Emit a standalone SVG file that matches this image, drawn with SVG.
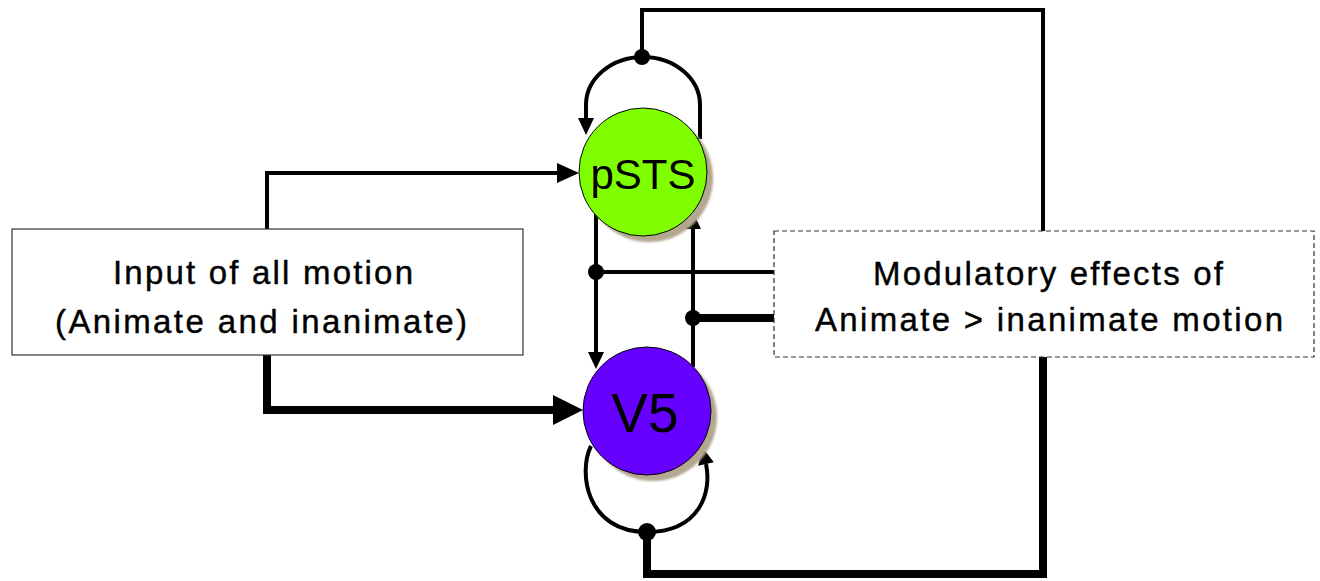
<svg xmlns="http://www.w3.org/2000/svg" width="1320" height="581" viewBox="0 0 1320 581">
<style>
.thin{fill:none;stroke:#000;stroke-width:4}
.thick{fill:none;stroke:#000;stroke-width:8}
.box{fill:#fff;stroke:#333;stroke-width:1.2}
.dash{stroke-dasharray:5 3}
.lbl{font-family:"Liberation Sans",Arial,sans-serif;font-size:33px;fill:#000;stroke:#000;stroke-width:0.4;text-anchor:middle}
.node{font-family:"Liberation Sans",Arial,sans-serif;fill:#000;text-anchor:middle}
.shadow{fill:#b3a78f}
.dot{fill:#000}
</style>
<defs>
<filter id="blur" x="-20%" y="-20%" width="140%" height="140%"><feGaussianBlur stdDeviation="1.2"/></filter>
<marker id="ah" markerUnits="userSpaceOnUse" markerWidth="24" markerHeight="22" viewBox="0 -11 24 22" refX="0" refY="0" orient="auto" overflow="visible"><path d="M0,-10 L22,0 L0,10 z" fill="#000"/></marker>
<marker id="ahs" markerUnits="userSpaceOnUse" markerWidth="18" markerHeight="18" viewBox="0 -9 18 18" refX="0" refY="0" orient="auto" overflow="visible"><path d="M0,-8 L17,0 L0,8 z" fill="#000"/></marker>
<marker id="ahb" markerUnits="userSpaceOnUse" markerWidth="32" markerHeight="32" viewBox="0 -16 32 32" refX="0" refY="0" orient="auto" overflow="visible"><path d="M0,-15 L30,0 L0,15 z" fill="#000"/></marker>
</defs>
<g id="connectors">
<path class="thin" d="M642 57 V10 H1043 V231"/>
<path class="thin" d="M700 139 V105 A57 48 0 0 0 586 105 V118" marker-end="url(#ahs)"/>
<path class="thin" d="M267 229 V173 H557" marker-end="url(#ah)"/>
<path class="thick" d="M267 355 V410 H553" marker-end="url(#ahb)"/>
<path class="thin" d="M596 214 V352" marker-end="url(#ahs)"/>
<path class="thin" d="M693 367 V229" marker-end="url(#ahs)"/>
<path class="thin" d="M596 272 H774"/>
<path class="thick" d="M693 318 H774"/>
<path class="thin" d="M591 446 C578 472 586 532 647 532 C700 532 712 492 706 464" marker-end="url(#ahs)"/>
<path class="thick" d="M647 532 V574 H1043 V357"/>
<circle class="dot" cx="642" cy="57" r="8"/>
<circle class="dot" cx="596" cy="272" r="8"/>
<circle class="dot" cx="693" cy="318" r="8"/>
<circle class="dot" cx="647" cy="532" r="9"/>
</g>
<g id="input">
<rect class="box" x="12" y="229" width="511" height="126"/>
<text class="lbl" x="263" y="284" textLength="300" lengthAdjust="spacing">Input of all motion</text>
<text class="lbl" x="261" y="333" textLength="412" lengthAdjust="spacing">(Animate and inanimate)</text>
</g>
<g id="modulatory">
<rect class="box dash" x="774" y="231" width="540" height="126"/>
<text class="lbl" x="1048" y="285" textLength="350" lengthAdjust="spacing">Modulatory effects of</text>
<text class="lbl" x="1049" y="331" textLength="468" lengthAdjust="spacing">Animate &gt; inanimate motion</text>
</g>
<g id="pSTS">
<circle class="shadow" cx="649" cy="178" r="64" filter="url(#blur)"/>
<circle cx="643" cy="172" r="64" fill="#80ff00" stroke="#000" stroke-width="1"/>
<text class="node" x="643" y="189" font-size="42">pSTS</text>
</g>
<g id="V5">
<circle class="shadow" cx="653" cy="417" r="64" filter="url(#blur)"/>
<circle cx="647" cy="411" r="64" fill="#6600ff" stroke="#000" stroke-width="1"/>
<text class="node" x="645" y="432" font-size="55">V5</text>
</g>
</svg>
